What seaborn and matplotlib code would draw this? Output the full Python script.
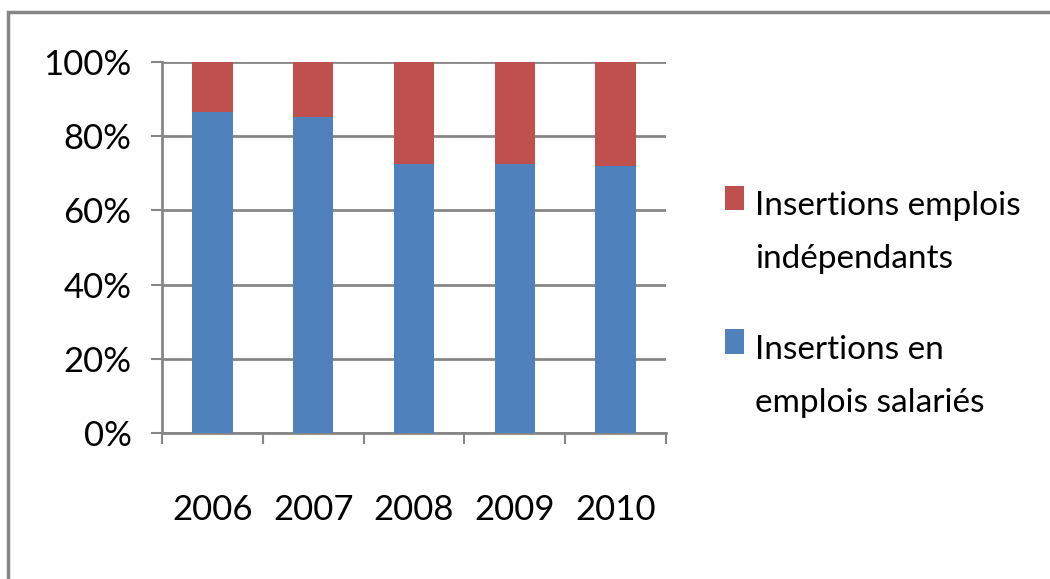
import matplotlib
matplotlib.use("Agg")
import matplotlib.pyplot as plt
import matplotlib.patches as mpatches
import matplotlib.ticker as mticker
import seaborn as sns
import pandas as pd

# -----------------------------------------------------------------------------
# DATA
# -----------------------------------------------------------------------------

years = ["2006", "2007", "2008", "2009", "2010"]
salaries = [86.4, 85.1, 72.4, 72.4, 71.9]          # Insertions en emplois salariés (%)
independants = [100 - v for v in salaries]          # Insertions emplois indépendants (%)
labels = ["Insertions emplois\nindépendants", "Insertions en\nemplois salariés"]

RED = "#C0504D"
BLUE = "#4F81BD"
GREY = "#868686"

df = pd.DataFrame({"year": years, "salaries": salaries, "independants": independants})
df["total"] = df["salaries"] + df["independants"]

# -----------------------------------------------------------------------------
# PLOT
# -----------------------------------------------------------------------------

sns.set_theme(style="white")
plt.rcParams["font.family"] = ["Lato", "DejaVu Sans"]
plt.rcParams["text.color"] = "black"
plt.rcParams["xtick.color"] = "black"
plt.rcParams["ytick.color"] = "black"

fig = plt.figure(figsize=(10.5, 5.79), dpi=100)
ax = fig.add_axes([0.1543, 0.2522, 0.48, 0.6407])

# outer frame like the pasted chart
fig.patches.append(mpatches.Rectangle((0.0076, -0.2), 1.5, 1.179, transform=fig.transFigure,
                                      fill=False, edgecolor=GREY, linewidth=2.5))

sns.barplot(data=df, x="year", y="total", color=RED, width=0.4, saturation=1,
            linewidth=0, ax=ax, zorder=3)
sns.barplot(data=df, x="year", y="salaries", color=BLUE, width=0.4, saturation=1,
            linewidth=0, ax=ax, zorder=3)

ax.set_xlim(-0.5, 4.5)
ax.set_ylim(0, 100)
ax.yaxis.set_major_locator(mticker.MultipleLocator(20))
ax.yaxis.set_major_formatter(mticker.FuncFormatter(lambda v, p: f"{v:.0f}%"))
ax.grid(axis="y", color=GREY, linewidth=2, zorder=0)
ax.set_axisbelow(True)

for s in ["top", "right"]:
    ax.spines[s].set_visible(False)
for s in ["left", "bottom"]:
    ax.spines[s].set_color(GREY)
    ax.spines[s].set_linewidth(2)

ax.xaxis.set_minor_locator(mticker.FixedLocator([i - 0.5 for i in range(len(years) + 1)]))
ax.tick_params(axis="x", which="major", length=0, pad=44, labelsize=25)
ax.tick_params(axis="x", which="minor", length=8, width=1.5, color=GREY, direction="out", bottom=True)
ax.tick_params(axis="y", length=8, width=1.5, color=GREY, direction="out", left=True,
               pad=14, labelsize=25)
ax.set_xlabel("")
ax.set_ylabel("")

# legend drawn by hand so the key sits on the first line of each label
# (va="baseline" on multi-line text lines up the last line)
for lab, col, y_base, y_key in [(labels[0], RED, 0.537, 0.637), (labels[1], BLUE, 0.288, 0.389)]:
    fig.patches.append(mpatches.Rectangle((0.6905, y_key), 0.018, 0.042, transform=fig.transFigure,
                                          facecolor=col, edgecolor="none"))
    fig.text(0.719, y_base, lab, fontsize=24, va="baseline", ha="left", linespacing=1.95)

plt.savefig("out.png", dpi=100)
plt.close()
